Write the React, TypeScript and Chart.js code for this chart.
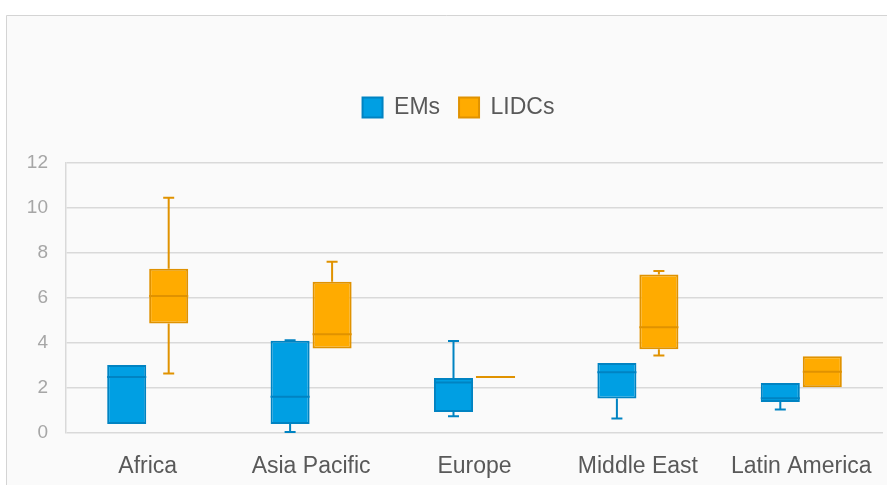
import React, { useEffect, useRef } from 'react';
import { Chart, registerables } from 'chart.js';

Chart.register(...registerables);

const categories = ['Africa', 'Asia Pacific', 'Europe', 'Middle East', 'Latin America'];
const seriesNames = ['EMs', 'LIDCs'];

const emsMin = [0.4, 0.05, 0.74, 0.65, 1.04];
const emsQ1 = [0.4, 0.4, 0.93, 1.53, 1.38];
const emsMedian = [2.49, 1.61, 2.24, 2.7, 1.54];
const emsQ3 = [3.02, 4.1, 2.44, 3.11, 2.22];
const emsMax = [3.02, 4.12, 4.09, 3.11, 2.22];

const lidcsMin = [2.65, 3.76, 2.49, 3.44, 2.03];
const lidcsQ1 = [4.87, 3.76, 2.49, 3.72, 2.03];
const lidcsMedian = [6.09, 4.39, 2.49, 4.7, 2.72];
const lidcsQ3 = [7.3, 6.72, 2.49, 7.05, 3.41];
const lidcsMax = [10.46, 7.61, 2.49, 7.2, 3.41];

const yTicks = [0, 2, 4, 6, 8, 10, 12];

const FONT = "'Liberation Sans', Arial, Helvetica, sans-serif";

function buildStats(mn: number[], q1: number[], med: number[], q3: number[], mx: number[]) {
  return mn.map((_, i) => ({ min: mn[i], q1: q1[i], median: med[i], q3: q3[i], max: mx[i] }));
}

const panelPlugin = {
  id: 'panelBg',
  beforeDraw(chart: any) {
    const { ctx, width, height } = chart;
    ctx.save();
    ctx.fillStyle = '#ffffff';
    ctx.fillRect(0, 0, width, height);
    ctx.fillStyle = '#fafafa';
    ctx.fillRect(6, 15, width, height);
    ctx.strokeStyle = '#d4d4d4';
    ctx.lineWidth = 1;
    ctx.beginPath();
    ctx.moveTo(6.5, height);
    ctx.lineTo(6.5, 15.5);
    ctx.lineTo(width, 15.5);
    ctx.stroke();
    ctx.restore();
  },
};

const legendSizePlugin = {
  id: 'legendSize',
  beforeLayout(chart: any) {
    const legend = chart.legend;
    if (legend && !legend.__patched) {
      const orig = legend.fit;
      legend.fit = function () {
        orig.call(this);
        this.height = 163 - 77;
      };
      legend.__patched = true;
    }
  },
  afterLayout(chart: any) {
    const legend = chart.legend;
    if (legend) {
      legend.left += 4;
      legend.right += 4;
    }
  },
};

const whiskerPlugin = {
  id: 'whiskers',
  afterDatasetsDraw(chart: any) {
    const ctx = chart.ctx;
    const yScale = chart.scales.y;
    chart.data.datasets.forEach((ds: any, i: number) => {
      const meta = chart.getDatasetMeta(i);
      meta.data.forEach((bar: any, j: number) => {
        const s = ds.stats[j];
        const { x, width } = bar.getProps(['x', 'width'], true);
        const yMin = yScale.getPixelForValue(s.min);
        const yQ1 = yScale.getPixelForValue(s.q1);
        const yMed = yScale.getPixelForValue(s.median);
        const yQ3 = yScale.getPixelForValue(s.q3);
        const yMax = yScale.getPixelForValue(s.max);
        const capHalf = 5.5;
        ctx.save();
        ctx.strokeStyle = ds.borderColor;
        ctx.lineWidth = 2;
        ctx.beginPath();
        ctx.moveTo(x - width / 2, yMed);
        ctx.lineTo(x + width / 2, yMed);
        if (s.max > s.q3) {
          ctx.moveTo(x, yQ3);
          ctx.lineTo(x, yMax);
          ctx.moveTo(x - capHalf, yMax);
          ctx.lineTo(x + capHalf, yMax);
        }
        if (s.min < s.q1) {
          ctx.moveTo(x, yQ1);
          ctx.lineTo(x, yMin);
          ctx.moveTo(x - capHalf, yMin);
          ctx.lineTo(x + capHalf, yMin);
        }
        ctx.stroke();
        ctx.restore();
      });
    });
  },
};

export default function App() {
  const canvasRef = useRef<HTMLCanvasElement | null>(null);

  useEffect(() => {
    document.body.style.margin = '0';
    const canvas = canvasRef.current;
    if (!canvas) return;
    const emsStats = buildStats(emsMin, emsQ1, emsMedian, emsQ3, emsMax);
    const lidcsStats = buildStats(lidcsMin, lidcsQ1, lidcsMedian, lidcsQ3, lidcsMax);

    const chart = new Chart(canvas, {
      type: 'bar',
      data: {
        labels: categories,
        datasets: [
          {
            label: seriesNames[0],
            data: emsStats.map((s) => [s.q1, s.q3]),
            stats: emsStats,
            backgroundColor: '#009fe3',
            borderColor: '#0083c2',
            borderWidth: 2,
            borderSkipped: false,
            categoryPercentage: 0.514,
            barPercentage: 0.93,
          } as any,
          {
            label: seriesNames[1],
            data: lidcsStats.map((s) => [s.q1, s.q3]),
            stats: lidcsStats,
            backgroundColor: '#ffab00',
            borderColor: '#e09200',
            borderWidth: 2,
            borderSkipped: false,
            categoryPercentage: 0.514,
            barPercentage: 0.93,
          } as any,
        ],
      },
      options: {
        animation: false,
        responsive: false,
        maintainAspectRatio: false,
        layout: { autoPadding: false, padding: { top: 77, left: 26, right: 4, bottom: 4 } },
        plugins: {
          tooltip: { enabled: false },
          legend: {
            position: 'top',
            labels: {
              boxWidth: 20,
              boxHeight: 20,
              padding: 19,
              color: '#595959',
              font: { family: FONT, size: 23 },
            },
          },
        },
        scales: {
          x: {
            grid: { display: false, drawTicks: true, tickLength: 20 },
            border: { display: false },
            afterFit: (scale: any) => {
              scale.height = 48;
            },
            ticks: {
              color: '#595959',
              padding: 0,
              maxRotation: 0,
              font: { family: FONT, size: 23 },
            },
          },
          y: {
            min: yTicks[0],
            max: yTicks[yTicks.length - 1],
            afterBuildTicks: (axis: any) => {
              axis.ticks = yTicks.map((v) => ({ value: v }));
            },
            afterFit: (scale: any) => {
              scale.width = 40;
            },
            grid: { color: '#d9d9d9', lineWidth: 1.5, drawTicks: false },
            border: { display: true, color: '#d9d9d9', width: 1.5 },
            ticks: {
              color: '#a6a6a6',
              padding: 18,
              font: { family: FONT, size: 19 },
            },
          },
        },
      } as any,
      plugins: [panelPlugin, legendSizePlugin, whiskerPlugin],
    });
    return () => chart.destroy();
  }, []);

  return (
    <div style={{ position: 'absolute', left: 0, top: 0, width: 887, height: 485 }}>
      <canvas ref={canvasRef} width={887} height={485} style={{ display: 'block', width: 887, height: 485 }} />
    </div>
  );
}
